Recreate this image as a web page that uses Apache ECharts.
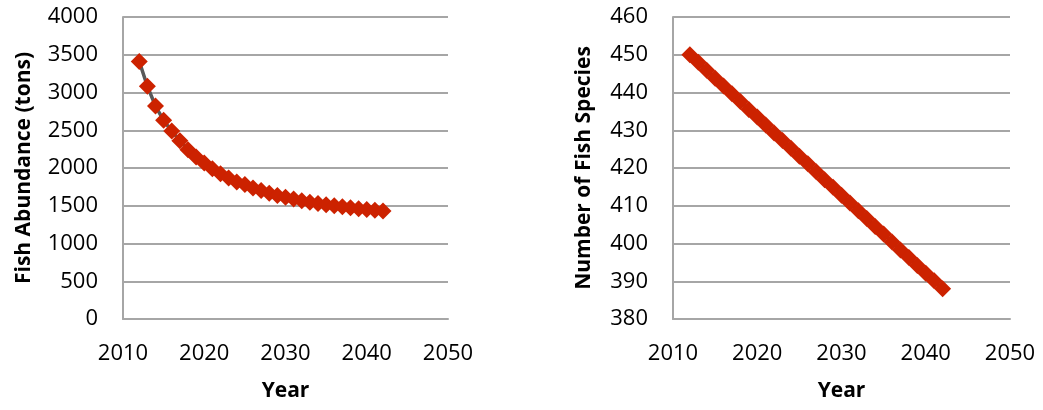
<!DOCTYPE html>
<html>
<head>
<meta charset="utf-8">
<script src="https://cdn.jsdelivr.net/npm/echarts@6/dist/echarts.min.js"></script>
<style>
html,body{margin:0;padding:0;background:#fff;}
#chart{width:1043px;height:410px;}
</style>
</head>
<body>
<div id="chart"></div>
<script>
const years = [2012,2013,2014,2015,2016,2017,2018,2019,2020,2021,2022,2023,2024,2025,2026,2027,2028,2029,2030,2031,2032,2033,2034,2035,2036,2037,2038,2039,2040,2041,2042];
const abundance = [3412,3082,2821,2631,2489,2362,2243,2145,2065,1991,1924,1866,1815,1780,1735,1703,1667,1637,1614,1588,1566,1546,1531,1514,1500,1487,1474,1461,1451,1442,1429];
const species = [450.0,448.0,445.9,443.8,441.7,439.7,437.6,435.5,433.5,431.4,429.3,427.3,425.2,423.1,421.1,419.0,416.9,414.9,412.8,410.7,408.7,406.6,404.5,402.5,400.4,398.3,396.3,394.2,392.1,390.1,388.0];
const xTicks = [2010,2020,2030,2040,2050];
const abundanceTicks = [0,4000,500];
const speciesTicks = [380,460,10];

const FONT = 'Open Sans';
const gridCol = '#a6a6a6';
const plain = v => String(v);

function xAxis(gi){
  return {
    gridIndex: gi, type:'value', min:xTicks[0], max:xTicks[xTicks.length-1], interval:10,
    name:'Year', nameLocation:'middle', nameGap:62,
    nameTextStyle:{fontFamily:FONT,fontWeight:'bold',fontSize:21,color:'#000'},
    axisLine:{show:true,lineStyle:{color:gridCol,width:2}},
    axisTick:{show:false},
    splitLine:{show:false},
    axisLabel:{fontFamily:FONT,fontSize:22,color:'#000',margin:24,formatter:plain}
  };
}
function yAxis(gi,t,name,gap){
  return {
    gridIndex: gi, type:'value', min:t[0], max:t[1], interval:t[2],
    name:name, nameLocation:'middle', nameGap:gap, nameRotate:90,
    nameTextStyle:{fontFamily:FONT,fontWeight:'bold',fontSize:21,color:'#000'},
    axisLine:{show:true,lineStyle:{color:gridCol,width:2}},
    axisTick:{show:false},
    splitLine:{show:true,lineStyle:{color:gridCol,width:2}},
    axisLabel:{fontFamily:FONT,fontSize:22,color:'#000',margin:25,formatter:plain}
  };
}
const chart = echarts.init(document.getElementById('chart'), null, {renderer:'canvas'});
chart.setOption({
  animation:false,
  backgroundColor:'#fff',
  grid:[
    {left:123, right:595, top:17, bottom:91, containLabel:false},
    {left:673, right:33, top:17, bottom:91, containLabel:false}
  ],
  xAxis:[xAxis(0), xAxis(1)],
  yAxis:[yAxis(0,abundanceTicks,'Fish Abundance (tons)',88), yAxis(1,speciesTicks,'Number of Fish Species',78)],
  series:[
    {type:'line', xAxisIndex:0, yAxisIndex:0, data:years.map((y,i)=>[y,abundance[i]]),
     symbol:'diamond', symbolSize:17, showAllSymbol:true,
     lineStyle:{color:'#595959',width:3.5},
     itemStyle:{color:'#cc2200',borderWidth:0}},
    {type:'line', xAxisIndex:1, yAxisIndex:1, data:years.map((y,i)=>[y,species[i]]),
     symbol:'diamond', symbolSize:17, showAllSymbol:true,
     lineStyle:{color:'#595959',width:3.5},
     itemStyle:{color:'#cc2200',borderWidth:0}}
  ]
});
</script>
</body>
</html>
